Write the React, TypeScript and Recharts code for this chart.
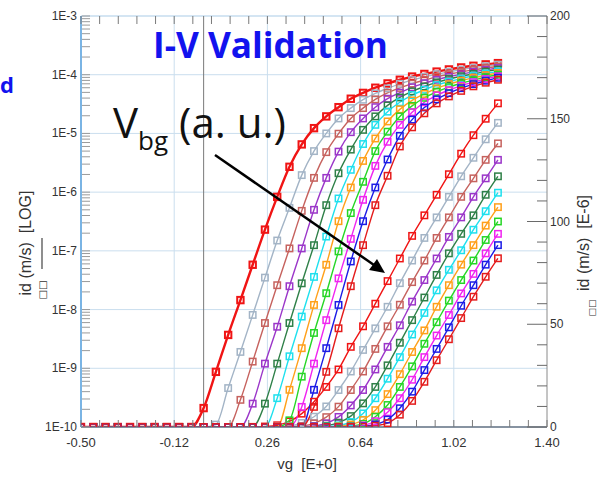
import React from 'react';
import { LineChart, Line, XAxis, YAxis, ReferenceLine } from 'recharts';

// gate voltage (V)
const vg = [-0.5, -0.45, -0.4, -0.35, -0.3, -0.25, -0.2, -0.15, -0.1, -0.05, 0, 0.05, 0.1, 0.15, 0.2, 0.25, 0.3, 0.35, 0.4, 0.45, 0.5, 0.55, 0.6, 0.65, 0.7, 0.75, 0.8, 0.85, 0.9, 0.95, 1, 1.05, 1.1, 1.15, 1.2];

// drain current, in units of E-6 (one array per back-gate bias)
const idRed = [0.0001, 0.0001, 0.0001, 0.0001, 0.0001, 0.0001, 0.0001, 0.0001, 0.0001, 0.0001, 0.00021, 0.00087, 0.0037, 0.0145, 0.058, 0.23, 0.83, 2.7, 6.5, 12.3, 19.5, 28, 39, 49, 60, 71, 82, 93, 103, 113, 123, 133, 142, 150, 157.5];
const idSlate = [0.0001, 0.0001, 0.0001, 0.0001, 0.0001, 0.0001, 0.0001, 0.0001, 0.0001, 0.0001, 0.0001, 0.00011, 0.00046, 0.0019, 0.0081, 0.035, 0.15, 0.54, 1.95, 5.0, 10, 18, 27, 37.5, 48, 58.5, 70, 81, 92, 102, 112, 122, 131, 140, 148];
const idRosy = [0.0001, 0.0001, 0.0001, 0.0001, 0.0001, 0.0001, 0.0001, 0.0001, 0.0001, 0.0001, 0.0001, 0.0001, 0.0001, 0.00029, 0.0013, 0.0059, 0.026, 0.11, 0.48, 1.75, 4.8, 9.9, 18, 27, 38, 49, 59.5, 70.5, 81, 92, 102, 112, 121, 130, 138];
const idPurple = [0.0001, 0.0001, 0.0001, 0.0001, 0.0001, 0.0001, 0.0001, 0.0001, 0.0001, 0.0001, 0.0001, 0.0001, 0.0001, 0.0001, 0.00025, 0.0012, 0.0051, 0.025, 0.11, 0.5, 1.75, 4.9, 10.5, 18, 28, 39, 49.5, 61, 71.5, 82, 92.5, 102, 112, 121, 130];
const idForest = [0.0001, 0.0001, 0.0001, 0.0001, 0.0001, 0.0001, 0.0001, 0.0001, 0.0001, 0.0001, 0.0001, 0.0001, 0.0001, 0.0001, 0.0001, 0.00025, 0.0012, 0.0059, 0.028, 0.125, 0.6, 2.1, 5.3, 11.5, 19.5, 30, 41, 52, 63, 74, 84.5, 94, 103, 113, 122];
const idCyan = [0.0001, 0.0001, 0.0001, 0.0001, 0.0001, 0.0001, 0.0001, 0.0001, 0.0001, 0.0001, 0.0001, 0.0001, 0.0001, 0.0001, 0.0001, 0.0001, 0.00031, 0.0016, 0.0076, 0.036, 0.175, 0.78, 2.4, 6.6, 14, 23.5, 34, 45, 55.5, 66.5, 76.5, 86, 96, 105, 114];
const idOrange = [0.0001, 0.0001, 0.0001, 0.0001, 0.0001, 0.0001, 0.0001, 0.0001, 0.0001, 0.0001, 0.0001, 0.0001, 0.0001, 0.0001, 0.0001, 0.0001, 0.0001, 0.00043, 0.0022, 0.012, 0.058, 0.32, 1.2, 3.4, 8.2, 16, 25.7, 36.5, 47, 58.5, 69, 79, 88.5, 98, 107];
const idGreen = [0.0001, 0.0001, 0.0001, 0.0001, 0.0001, 0.0001, 0.0001, 0.0001, 0.0001, 0.0001, 0.0001, 0.0001, 0.0001, 0.0001, 0.0001, 0.0001, 0.0001, 0.00013, 0.00072, 0.004, 0.019, 0.098, 0.44, 1.5, 5.0, 10.7, 19.5, 29.5, 40.5, 51, 61.5, 71.5, 81, 91, 100];
const idMagenta = [0.0001, 0.0001, 0.0001, 0.0001, 0.0001, 0.0001, 0.0001, 0.0001, 0.0001, 0.0001, 0.0001, 0.0001, 0.0001, 0.0001, 0.0001, 0.0001, 0.0001, 0.0001, 0.00022, 0.0012, 0.0066, 0.034, 0.16, 0.74, 2.8, 7.2, 14, 23, 34, 44.5, 54.5, 65, 74.5, 84.5, 94];
const idBlue = [0.0001, 0.0001, 0.0001, 0.0001, 0.0001, 0.0001, 0.0001, 0.0001, 0.0001, 0.0001, 0.0001, 0.0001, 0.0001, 0.0001, 0.0001, 0.0001, 0.0001, 0.0001, 0.0001, 0.00043, 0.0022, 0.012, 0.066, 0.32, 1.2, 3.6, 9.1, 17.2, 27.7, 38, 48.5, 59, 69, 79, 88.5];
const idCrimson = [0.0001, 0.0001, 0.0001, 0.0001, 0.0001, 0.0001, 0.0001, 0.0001, 0.0001, 0.0001, 0.0001, 0.0001, 0.0001, 0.0001, 0.0001, 0.0001, 0.0001, 0.0001, 0.0001, 0.00022, 0.00087, 0.0048, 0.025, 0.125, 0.6, 1.9, 6.0, 12.7, 22, 32.5, 42.7, 53, 63.4, 73.1, 82.1];

const seriesColors = ['#f01414', '#a3b4c6', '#c6625e', '#9b36c9', '#2f8048', '#1ee0ee', '#ffa01a', '#26d626', '#f024f0', '#1c1ce6', '#e41c1c'];

// ticks
const xMajorTicks = [-0.5, -0.12, 0.26, 0.64, 1.02, 1.4];
const xAllTicks = [-0.5, -0.424, -0.348, -0.272, -0.196, -0.12, -0.044, 0.032, 0.108, 0.184, 0.26, 0.336, 0.412, 0.488, 0.564, 0.64, 0.716, 0.792, 0.868, 0.944, 1.02, 1.096, 1.172, 1.248, 1.324, 1.4];
const logDecades = [-10, -9, -8, -7, -6, -5, -4, -3];
const logMinorSteps = [1, 2, 3, 4, 5, 6, 7, 8, 9];
const rightTicks = [0, 10, 20, 30, 40, 50, 60, 70, 80, 90, 100, 110, 120, 130, 140, 150, 160, 170, 180, 190, 200];
const rightMajorTicks = [0, 50, 100, 150, 200];

const series = [idRed, idSlate, idRosy, idPurple, idForest, idCyan, idOrange, idGreen, idMagenta, idBlue, idCrimson];

const data = vg.map((v, i) => {
  const row: Record<string, number> = { vg: v };
  series.forEach((s, k) => {
    row[`lin${k}`] = s[i];
    row[`log${k}`] = s[i] * 1e-6;
  });
  return row;
});

const logTicks = [
  ...logDecades.slice(0, -1).flatMap((d) => logMinorSteps.map((k) => k * Math.pow(10, d))),
  Math.pow(10, logDecades[logDecades.length - 1]),
];

const PLOT_TOP = 16;
const FONT = "'Liberation Sans', Arial, sans-serif";

const XTick = (props: any) => {
  const { x, y, payload } = props;
  const v = payload.value;
  const major = xMajorTicks.some((m) => Math.abs(m - v) < 1e-9);
  return (
    <g>
      <line x1={x} x2={x} y1={y} y2={y - 7} stroke="#7a7a7a" strokeWidth={1} />
      <line x1={x} x2={x} y1={PLOT_TOP} y2={PLOT_TOP + 8} stroke="#7a7a7a" strokeWidth={1} />
      {major && (
        <text x={x} y={y + 20} textAnchor="middle" fontFamily={FONT} fontSize={13} fill="#333">
          {v.toFixed(2)}
        </text>
      )}
    </g>
  );
};

const LogTick = (props: any) => {
  const { x, y, payload } = props;
  const v = payload.value;
  const lg = Math.log10(v);
  const exp = Math.round(lg);
  const decade = Math.abs(lg - exp) < 1e-9;
  return (
    <g>
      <line x1={x + 1} x2={x + 9} y1={y} y2={y} stroke="#9a9a9a" strokeWidth={1} />
      {decade && (
        <text x={x - 4} y={y + 4} textAnchor="end" fontFamily={FONT} fontSize={12} fill="#333">
          {`1E${exp}`}
        </text>
      )}
    </g>
  );
};

const LinTick = (props: any) => {
  const { x, y, payload } = props;
  const v = payload.value;
  const major = rightMajorTicks.includes(v);
  return (
    <g>
      <line x1={x} x2={x - (major ? 20 : 10)} y1={y} y2={y} stroke="#6a6a6a" strokeWidth={1} />
      {major && (
        <text x={x + 3} y={y + 4} textAnchor="start" fontFamily={FONT} fontSize={12} fill="#333">
          {v}
        </text>
      )}
    </g>
  );
};

const squareDot = (color: string, sw: number) => (props: any) => {
  const { cx, cy, index } = props;
  if (cx == null || cy == null || isNaN(cx) || isNaN(cy)) return <g key={`d${index}`} />;
  return (
    <rect key={`d${index}`} x={cx - 3.2} y={cy - 3.2} width={6.4} height={6.4} fill="none" stroke={color} strokeWidth={sw} />
  );
};

export default function App() {
  return (
    <div style={{ position: 'absolute', left: 0, top: 0, width: 597, height: 477, background: '#fff' }}>
      <LineChart width={597} height={477} data={data} margin={{ top: 16, right: 10, left: 21, bottom: 20 }}>
        <XAxis
          dataKey="vg"
          type="number"
          domain={[-0.5, 1.4]}
          ticks={xAllTicks}
          interval={0}
          tickSize={0}
          tickMargin={0}
          tickLine={false}
          tick={XTick}
          axisLine={{ stroke: '#5f6f82', strokeWidth: 1.5 }}
          height={30}
          allowDataOverflow
        />
        <YAxis
          yAxisId="log"
          type="number"
          scale="log"
          domain={[1e-10, 1e-3]}
          ticks={logTicks}
          interval={0}
          tickSize={0}
          tickMargin={0}
          tickLine={false}
          tick={LogTick}
          axisLine={{ stroke: '#7ab4e4', strokeWidth: 2 }}
          width={60}
          allowDataOverflow
        />
        <YAxis
          yAxisId="lin"
          orientation="right"
          type="number"
          domain={[0, 200]}
          ticks={rightTicks}
          interval={0}
          tickSize={0}
          tickMargin={0}
          tickLine={false}
          tick={LinTick}
          axisLine={{ stroke: '#8a8a8a', strokeWidth: 1 }}
          width={40}
          allowDataOverflow
        />
        {xMajorTicks.slice(1, -1).map((t) => (
          <ReferenceLine key={`gx${t}`} x={t} yAxisId="log" stroke="#cadeee" strokeWidth={1} />
        ))}
        {logDecades.slice(1, -1).map((d) => (
          <ReferenceLine key={`gy${d}`} y={Math.pow(10, d)} yAxisId="log" stroke="#cadeee" strokeWidth={1} />
        ))}
        <ReferenceLine y={1e-3} yAxisId="log" stroke="#a9cbe6" strokeWidth={1} />
        <ReferenceLine x={0} yAxisId="log" stroke="#7a7a7a" strokeWidth={1} />
        {series.map((_, k) => (
          <Line
            key={`lin${k}`}
            yAxisId="lin"
            dataKey={`lin${k}`}
            type="monotone"
            stroke={seriesColors[k]}
            strokeWidth={1.4}
            dot={squareDot(seriesColors[k], 1.5)}
            activeDot={false}
            isAnimationActive={false}
          />
        ))}
        {series.map((_, k) => (
          <Line
            key={`log${k}`}
            yAxisId="log"
            dataKey={`log${k}`}
            type="monotone"
            stroke={seriesColors[k]}
            strokeWidth={k === 0 ? 2.4 : 1.4}
            dot={squareDot(seriesColors[k], k === 0 ? 2 : 1.5)}
            activeDot={false}
            isAnimationActive={false}
          />
        ))}
      </LineChart>
      <svg width={597} height={477} style={{ position: 'absolute', left: 0, top: 0, pointerEvents: 'none' }}>
        <text x={153} y={58} fontFamily="'Open Sans', 'Noto Sans', sans-serif" fontWeight={700} fontSize={36} fill="#1212ee" textLength={235} lengthAdjust="spacingAndGlyphs">
          I-V Validation
        </text>
        <text x={0} y={93} textAnchor="start" fontFamily="'Open Sans', sans-serif" fontWeight={700} fontSize={22} fill="#1212ee">
          d
        </text>
        <text x={113} y={138} fontFamily="'Open Sans', 'Noto Sans', sans-serif" fontSize={42} fill="#111">
          V
          <tspan fontSize={26} dy={12}>bg</tspan>
          <tspan dy={-12}>{'\u00a0(a. u.)'}</tspan>
        </text>
        <line x1={215} y1={155} x2={374} y2={265} stroke="#000" strokeWidth={2.5} />
        <polygon points="385,273 369,270 377,259" fill="#000" />
        <text transform="translate(31,243) rotate(-90)" textAnchor="middle" fontFamily={FONT} fontSize={16} fill="#333">
          {'id (m/s)\u00a0\u00a0[LOG]'}
        </text>
        <text transform="translate(46,290) rotate(-90)" textAnchor="middle" fontFamily="'DejaVu Sans', sans-serif" fontSize={10} fill="#333">
          □□
        </text>
        <line x1={42} y1={238} x2={42} y2={269} stroke="#444" strokeWidth={1.2} />
        <text transform="translate(589,243) rotate(-90)" textAnchor="middle" fontFamily={FONT} fontSize={16} fill="#333">
          {'id (m/s)\u00a0\u00a0[E-6]'}
        </text>
        <text transform="translate(595,308) rotate(-90)" textAnchor="middle" fontFamily="'DejaVu Sans', sans-serif" fontSize={9} fill="#333">
          □□
        </text>
        <text x={307} y={469} textAnchor="middle" fontFamily={FONT} fontSize={15} fill="#333">
          {'vg\u00a0\u00a0[E+0]'}
        </text>
      </svg>
    </div>
  );
}
